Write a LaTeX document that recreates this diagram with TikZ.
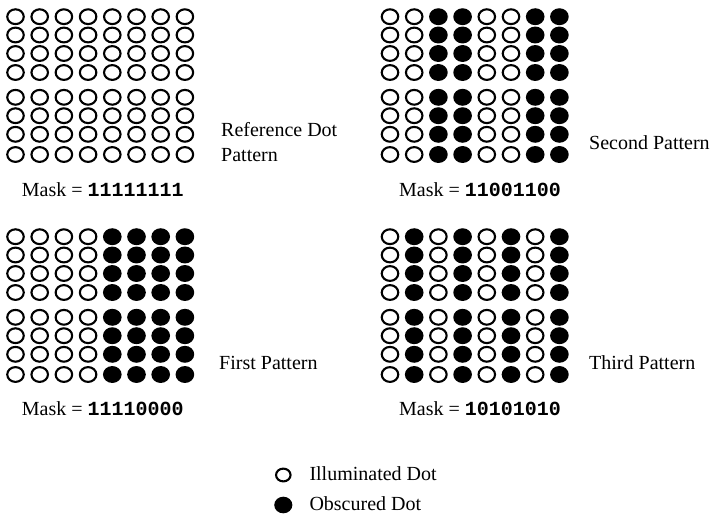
\documentclass[tikz,border=0pt]{standalone}
\usepackage{fontspec}
\setmainfont{Liberation Serif}
\newfontfamily\maskfont{Liberation Mono}
\usetikzlibrary{shapes.geometric}
\newcommand\mydotgrid[4]{%
  \foreach \b [count=\c] in {#4} {%
    \foreach \yy [count=\r] in {16.7,35,53.5,72.5,97.3,115.7,134.3,154.5} {%
      \ifnum\b=1
        \node[dotopen] (#1-\r-\c) at ({#2+24.2*(\c-1)},{#3+\yy}) {};
      \else
        \node[dotfull] (#1-\r-\c) at ({#2+24.2*(\c-1)},{#3+\yy}) {};
      \fi
    }%
  }%
}
\begin{document}
\begin{tikzpicture}[x=1pt,y=-1pt,
  dotopen/.style={ellipse,draw=black,line width=2.1pt,fill=white,
    minimum width=16.5pt,minimum height=14.8pt,inner sep=0pt,outer sep=0pt},
  dotfull/.style={dotopen,fill=black},
  legopen/.style={dotopen,minimum width=14.5pt,minimum height=12.8pt},
  legfull/.style={dotfull,minimum width=16pt,minimum height=14.5pt},
  lbl/.style={font=\fontsize{20}{25.5}\selectfont,inner sep=0pt,anchor=base west,align=left}]
\useasboundingbox (0,0) rectangle (712,515);

\mydotgrid{ref}{15.5}{0}{1,1,1,1,1,1,1,1}
\mydotgrid{sec}{390}{0}{1,1,0,0,1,1,0,0}
\mydotgrid{fir}{15.5}{220}{1,1,1,1,0,0,0,0}
\mydotgrid{thi}{390}{220}{1,0,1,0,1,0,1,0}

\node[lbl] (reflbl) at (221,161.7) {Reference Dot\\Pattern};
\node[lbl] (seclbl) at (589,149.3) {Second Pattern};
\node[lbl] (firlbl) at (219,369) {First Pattern};
\node[lbl] (thilbl) at (589,369) {Third Pattern};

\node[lbl] (refmask) at (21.7,196.7) {Mask = {\maskfont\bfseries 11111111}};
\node[lbl] (secmask) at (399,196.7) {Mask = {\maskfont\bfseries 11001100}};
\node[lbl] (firmask) at (21.7,415.5) {Mask = {\maskfont\bfseries 11110000}};
\node[lbl] (thimask) at (399,415.5) {Mask = {\maskfont\bfseries 10101010}};

\node[legopen] (legO) at (283.3,475) {};
\node[lbl] (legOt) at (309.3,480) {Illuminated Dot};
\node[legfull] (legF) at (283.3,505) {};
\node[lbl] (legFt) at (309.3,510) {Obscured Dot};
\end{tikzpicture}
\end{document}
